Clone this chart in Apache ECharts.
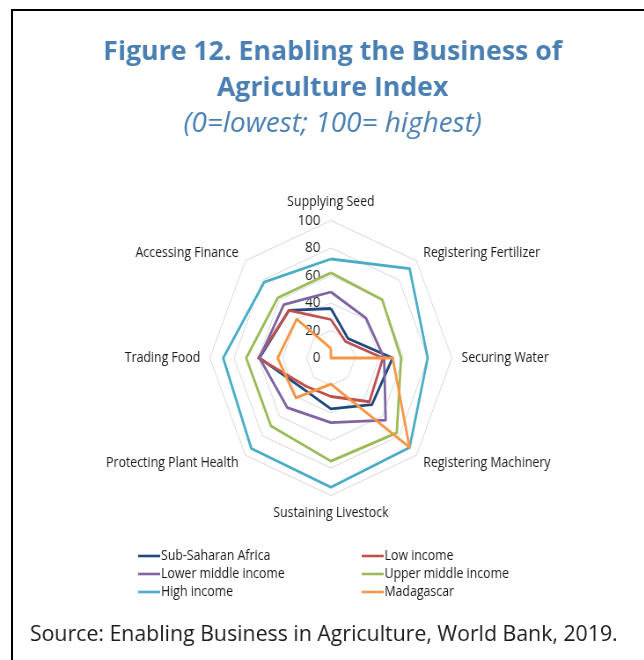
<!DOCTYPE html>
<html>
<head>
<meta charset="utf-8">
<script src="https://cdn.jsdelivr.net/npm/echarts@6/dist/echarts.min.js"></script>
<style>
  html, body { margin: 0; padding: 0; overflow: hidden; background: #fff; width: 644px; height: 660px; }
  #frame { position: absolute; left: 11px; top: 9px; width: 700px; height: 700px;
           border-left: 2.5px solid #000; border-top: 2.5px solid #000; }
  /* the chart is laid out wide and squeezed horizontally to the figure's proportions */
  #chart { position: absolute; left: 0; top: 0; width: 732px; height: 660px;
           transform: scaleX(0.88); transform-origin: 0 0; }
</style>
</head>
<body>
<div id="frame"></div>
<div id="chart"></div>
<script>
// Axes, clockwise from the top
const axes = ['Supplying Seed', 'Registering Fertilizer', 'Securing Water', 'Registering Machinery',
              'Sustaining Livestock', 'Protecting Plant Health', 'Trading Food', 'Accessing Finance'];

// Scores per axis (same clockwise order)
const subSaharanAfrica   = [36, 20, 51, 48, 37, 32, 59, 49];
const lowIncome          = [28, 17, 43, 45, 28, 29, 60, 49];
const lowerMiddleIncome  = [48, 41, 44, 64, 47, 51, 59, 55];
const upperMiddleIncome  = [62, 60, 58, 77, 75, 70, 70, 62];
const highIncome         = [72, 92, 80, 92, 94, 93, 89, 78];
const madagascar         = [7, 0, 51, 92, 19, 41, 44, 40];

const seriesNames  = ['Sub-Saharan Africa', 'Low income', 'Lower middle income',
                      'Upper middle income', 'High income', 'Madagascar'];
const seriesValues = [subSaharanAfrica, lowIncome, lowerMiddleIncome,
                      upperMiddleIncome, highIncome, madagascar];
const seriesColors = ['#1f497d', '#c0504d', '#8064a2', '#9bbb59', '#4bacc6', '#f79646'];

const tickMin = 0, tickMax = 100, tickSplits = 5;

// ECharts lays radar indicators out counter-clockwise; reorder so they run clockwise
const order = [0, 7, 6, 5, 4, 3, 2, 1];

const squeeze = 0.88;          // horizontal squeeze applied to the chart element
const unsqueeze = 1 / squeeze; // headings keep their natural width
const font = '"Open Sans", "Noto Sans", sans-serif';
const textColor = '#1a1a1a';
const titleColor = '#4a7fb3';

const indicator = order.map((i, k) => {
  const ind = { name: axes[i], min: tickMin, max: tickMax };
  if (k === 0) {
    ind.axisLabel = { show: true, color: textColor, fontSize: 15, fontFamily: font, margin: 12 };
  }
  return ind;
});

const legendBase = {
  orient: 'vertical', top: 549, padding: 0,
  icon: 'rect', itemWidth: 25, itemHeight: 2.6, itemGap: 4,
  textStyle: { color: textColor, fontSize: 14, fontFamily: font, lineHeight: 14, padding: [0, 0, 0, -4] }
};

const chart = echarts.init(document.getElementById('chart'), null, { renderer: 'canvas' });

chart.setOption({
  backgroundColor: 'transparent',
  animation: false,
  color: seriesColors,
  graphic: [
    { type: 'text', x: 378, y: 52, scaleX: unsqueeze, style: { text: 'Figure 12. Enabling the Business of',
      align: 'center', verticalAlign: 'middle', fill: titleColor, font: 'bold 26.7px ' + font } },
    { type: 'text', x: 378, y: 88, scaleX: unsqueeze, style: { text: 'Agriculture Index',
      align: 'center', verticalAlign: 'middle', fill: titleColor, font: 'bold 26.7px ' + font } },
    { type: 'text', x: 378, y: 124, scaleX: unsqueeze, style: { text: '(0=lowest; 100= highest)',
      align: 'center', verticalAlign: 'middle', fill: titleColor, font: 'italic 28px ' + font } },
    { type: 'text', x: 34, y: 635, scaleX: unsqueeze, style: { text: 'Source: Enabling Business in Agriculture, World Bank, 2019.',
      align: 'left', verticalAlign: 'middle', fill: textColor, font: '21.3px ' + font } }
  ],
  legend: [
    Object.assign({ data: [seriesNames[0], seriesNames[2], seriesNames[4]], left: 157 }, legendBase),
    Object.assign({ data: [seriesNames[1], seriesNames[3], seriesNames[5]], left: 411 }, legendBase)
  ],
  radar: {
    center: [376, 358],
    radius: 137.5,
    startAngle: 90,
    shape: 'polygon',
    splitNumber: tickSplits,
    nameGap: 11,
    axisName: { color: textColor, fontSize: 14, fontFamily: font },
    axisLine: { show: false },
    axisTick: { show: false },
    axisLabel: { show: false },
    splitArea: { show: false },
    splitLine: { lineStyle: { color: '#d9d9d9', width: 1 } },
    indicator: indicator
  },
  series: seriesNames.map((name, s) => ({
    type: 'radar',
    name: name,
    symbol: 'none',
    itemStyle: { color: seriesColors[s] },
    lineStyle: { color: seriesColors[s], width: 2.8 },
    data: [{
      name: name,
      value: order.map(i => seriesValues[s][i]),
      itemStyle: { color: seriesColors[s] },
      lineStyle: { color: seriesColors[s], width: 2.8 }
    }]
  }))
});
</script>
</body>
</html>
